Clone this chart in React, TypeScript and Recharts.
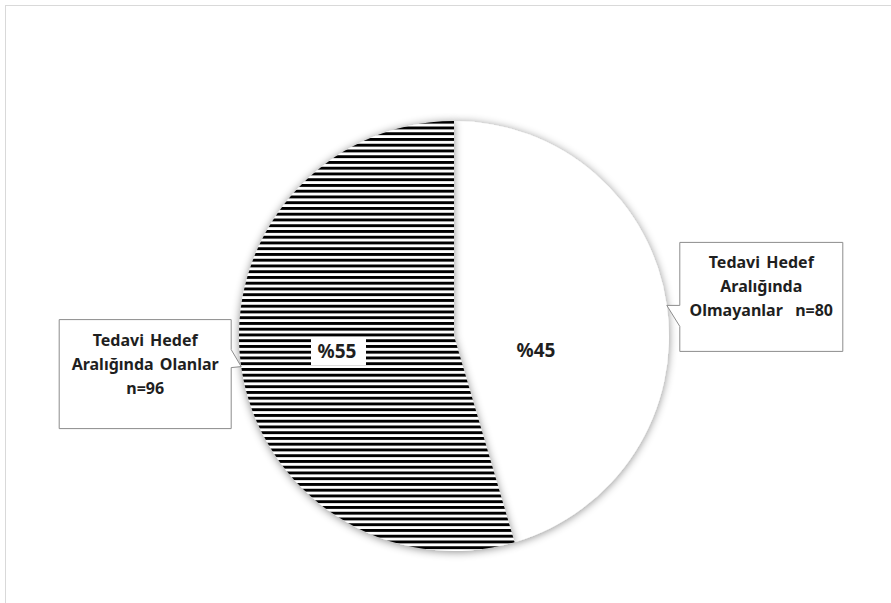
import { PieChart, Pie, Cell } from 'recharts';

const categories = ['Tedavi Hedef Aralığında Olmayanlar', 'Tedavi Hedef Aralığında Olanlar'];
const counts = [80, 96];
const calloutLines = [
  ['Tedavi Hedef', 'Aralığında', 'Olmayanlar  n=80'],
  ['Tedavi Hedef', 'Aralığında Olanlar', 'n=96'],
];

const data = categories.map((name, i) => ({ name, value: counts[i] }));

// callout layout, relative to the point on the pie edge at the slice's mid angle
const calloutBox = [
  { left: 13, top: -63, w: 163, h: 109, side: 'right' },
  { left: -182, top: -47, w: 172, h: 109, side: 'left' },
];
// inner percentage label offsets from the pie centre
const innerOffset = [
  { dx: 82, dy: 14, boxed: false },
  { dx: -117, dy: 15, boxed: true },
];

const RAD = Math.PI / 180;
const textColor = '#1f1f1f';
const font = '"Noto Sans", sans-serif';

function renderLabel(props: any) {
  const { cx, cy, midAngle, outerRadius, percent, index } = props;
  const tipX = cx + outerRadius * Math.cos(-midAngle * RAD);
  const tipY = cy + outerRadius * Math.sin(-midAngle * RAD);
  const box = calloutBox[index];
  const bx = tipX + box.left;
  const by = tipY + box.top;
  let d = '';
  if (box.side === 'right') {
    d = `M${bx},${by} H${bx + box.w} V${by + box.h} H${bx} V${tipY + 21} L${tipX},${tipY} H${bx} Z`;
  } else {
    const rx = bx + box.w;
    d = `M${bx},${by} H${rx} V${tipY - 17} L${tipX},${tipY} L${rx},${tipY + 1} V${by + box.h} H${bx} Z`;
  }
  const lines = calloutLines[index];
  const pct = `%${Math.round(percent * 100)}`;
  const ix = cx + innerOffset[index].dx;
  const iy = cy + innerOffset[index].dy;
  return (
    <g key={`lbl-${index}`}>
      <path d={d} fill="#ffffff" stroke="#8c8c8c" strokeWidth={1} />
      {lines.map((t, k) => (
        <text
          key={k}
          x={bx + box.w / 2}
          y={by + 20 + k * 24}
          textAnchor="middle"
          dominantBaseline="central"
          fill={textColor}
          fontFamily={font}
          fontWeight={700}
          fontSize={16}
          style={{ whiteSpace: 'pre', wordSpacing: 2 }}
        >
          {t}
        </text>
      ))}
      {innerOffset[index].boxed && (
        <rect x={ix - 26} y={iy - 14} width={55} height={28} fill="#ffffff" />
      )}
      <text
        x={ix}
        y={iy}
        textAnchor="middle"
        dominantBaseline="central"
        fill={textColor}
        fontFamily={font}
        fontWeight={700}
        fontSize={19}
      >
        {pct}
      </text>
    </g>
  );
}

export default function App() {
  return (
    <div style={{ position: 'absolute', left: 0, top: 0, width: 891, height: 603, background: '#fff', overflow: 'hidden' }}>
      <div
        style={{
          position: 'absolute',
          left: 5,
          top: 5,
          width: 900,
          height: 620,
          borderLeft: '1px solid #d9d9d9',
          borderTop: '1px solid #d9d9d9',
        }}
      />
      <div style={{ position: 'absolute', left: 0, top: 0 }}>
        <PieChart width={891} height={603} margin={{ top: 0, right: 0, bottom: 0, left: 0 }}>
          <defs>
            <pattern id="hStripes" patternUnits="userSpaceOnUse" width={10} height={5.75}>
              <rect width={10} height={5.75} fill="#ffffff" />
              <rect width={10} height={2.9} fill="#000000" />
            </pattern>
            <filter id="pieShadow" x="-20%" y="-20%" width="140%" height="140%">
              <feDropShadow dx={0} dy={1} stdDeviation={4} floodColor="#000" floodOpacity={0.45} />
            </filter>
          </defs>
          <Pie
            data={data}
            dataKey="value"
            nameKey="name"
            cx={454}
            cy={336}
            outerRadius={215}
            startAngle={90}
            endAngle={-270}
            stroke="none"
            label={renderLabel}
            labelLine={false}
            isAnimationActive={false}
          >
            <Cell fill="#ffffff" filter="url(#pieShadow)" />
            <Cell fill="url(#hStripes)" filter="url(#pieShadow)" />
          </Pie>
        </PieChart>
      </div>
    </div>
  );
}
